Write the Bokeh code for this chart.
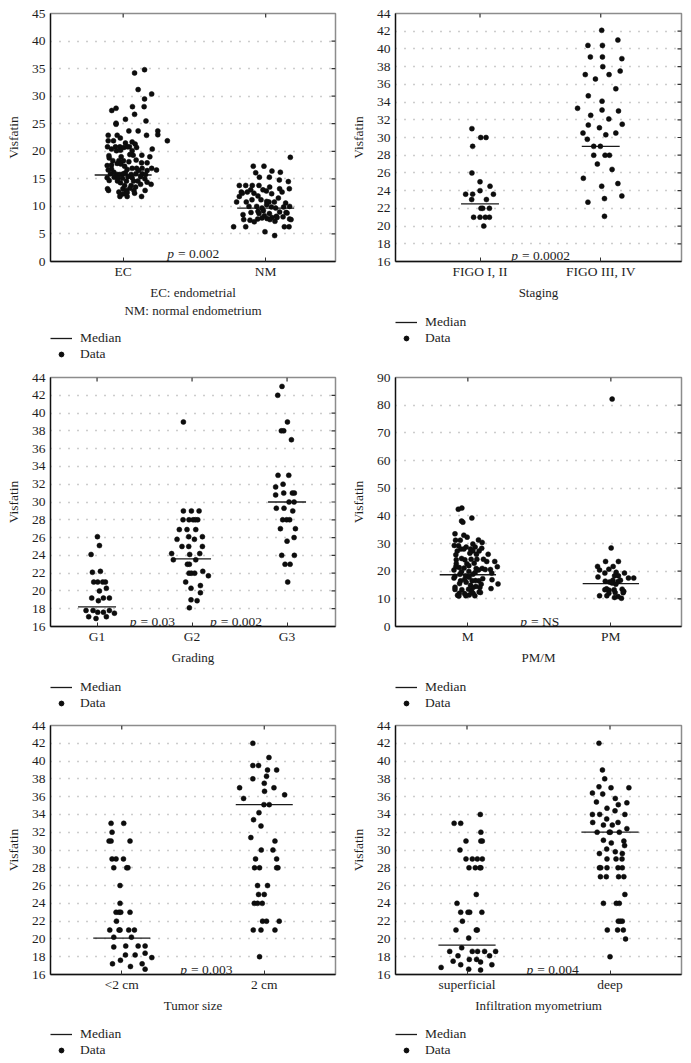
import math
from bokeh.plotting import figure
from bokeh.models import (Range1d, FixedTicker, SingleIntervalTicker, Label,
                          Legend, LegendItem, ColumnDataSource)
from bokeh.layouts import column, row
from bokeh.embed import file_html
from bokeh.resources import INLINE

FONT = "Liberation Serif"
INK = "#1e1e1e"

# ---------------- Panel A: EC vs NM ----------------
ecnm_categories = ["EC", "NM"]
ec_dx = [0.15,0.08,0.105,0.20,0.15,0.065,0.147,-0.05,-0.08,0.08,
         0.016,-0.05,-0.05,0.16,0.04,0.105,0.243,0.243,0.164,-0.105,
         -0.042,-0.02,0.31,-0.105,-0.068,0.063,0.016,0.084,0.044,-0.11,
         -0.054,-0.023,0.005,0.03,0.094,0.204,-0.082,-0.047,-0.019,0.063,
         -0.1,0.07,0.131,0.187,0.047,-0.014,-0.098,0.091,-0.073,-0.03,
         0.002,0.04,0.168,0.129,-0.112,-0.082,-0.042,-0.016,0.01,0.063,
         0.094,0.133,0.2,-0.082,-0.105,0.028,0.108,0.168,0.234,-0.065,
         0.016,-0.089,-0.042,-0.023,0.0,0.056,0.089,0.133,0.157,-0.112,
         -0.063,-0.037,-0.005,0.033,0.063,0.122,0.152,-0.098,-0.04,-0.019,
         0.023,0.073,0.103,0.168,0.196,0.122,0.056,0.01,0.087,-0.002,
         0.047,-0.11,-0.103,0.021,0.075,0.154,-0.03,-0.019,0.002,0.028,
         0.08,-0.023,0.028,0.129]
ec_val = [34.8,34.2,31.2,30.4,29.5,28.1,28.1,27.8,27.4,26.7,
          25.8,25.1,24.9,25.5,23.7,23.7,23.7,23.0,22.9,22.9,
          22.9,22.4,21.9,21.9,21.9,21.7,21.5,21.3,20.8,20.8,
          20.8,20.8,20.7,20.8,20.7,20.4,20.4,20.1,20.2,20.1,
          19.2,19.3,19.3,19.0,19.4,19.0,18.8,18.4,18.3,18.3,
          18.3,18.1,17.9,17.9,17.4,17.5,17.8,17.7,17.3,16.9,
          16.9,16.9,16.9,16.8,16.6,16.7,16.5,16.5,16.6,16.2,
          16.1,15.9,15.8,15.8,15.9,15.8,15.9,15.9,15.8,15.2,
          15.3,15.1,15.1,15.4,15.2,15.4,15.0,14.7,14.6,14.3,
          14.6,14.6,14.6,14.4,14.0,14.0,13.8,13.8,13.5,13.2,
          13.3,13.2,12.9,12.9,12.9,12.9,12.6,12.1,12.3,12.5,
          12.4,11.8,11.8,11.8]
nm_dx = [0.173,-0.087,-0.012,-0.07,0.044,0.103,-0.044,0.026,0.096,0.159,
         -0.185,-0.14,-0.094,-0.047,0.028,0.098,-0.105,0.166,-0.171,-0.082,
         -0.019,0.005,0.115,0.042,-0.164,-0.129,-0.185,-0.054,0.089,-0.096,
         -0.033,0.007,-0.204,-0.136,0.023,0.061,0.14,0.168,0.007,-0.117,
         -0.063,-0.026,0.04,0.07,0.126,-0.016,-0.054,-0.103,0.098,0.143,
         -0.159,-0.047,0.026,0.15,-0.009,0.044,0.075,0.122,-0.056,-0.026,
         0.009,0.08,0.168,-0.154,-0.11,0.03,0.065,-0.08,0.178,-0.225,
         -0.14,0.131,0.164,-0.005,0.063]
nm_val = [18.9,17.3,17.3,16.1,16.4,16.2,15.3,15.3,14.8,14.5,
          13.8,13.8,13.8,13.8,13.5,13.2,13.0,13.2,12.6,12.4,
          13.0,12.8,12.6,12.3,12.4,12.6,11.8,11.9,11.5,11.2,
          11.2,10.9,10.8,10.8,10.8,10.8,10.6,10.0,10.3,10.0,
          10.0,9.7,9.9,9.7,9.9,9.2,9.1,8.9,9.0,8.9,
          8.5,8.7,8.7,8.8,8.3,8.0,8.2,8.1,7.7,7.9,
          7.8,8.0,7.7,7.6,7.5,7.6,7.3,7.2,7.6,6.3,
          6.3,6.3,6.3,5.4,4.7]
ecnm_medians = [15.7, 9.7]

# ---------------- Panel B: Staging ----------------
staging_categories = ["FIGO I, II", "FIGO III, IV"]
figo12_dx = [-0.067,-0.061,0.006,0.05,-0.067,0.0,0.083,0.0,-0.119,-0.061,
             0.111,-0.069,0.053,0.008,0.022,0.078,-0.053,0.0,0.044,0.078,
             0.031]
figo12_val = [31.0,29.0,30.0,30.0,26.0,25.0,24.5,24.0,23.6,23.6,
              23.6,23.0,23.0,22.0,22.0,22.0,21.0,21.0,21.0,21.0,
              20.0]
figo34_dx = [0.008,-0.106,0.014,0.142,-0.086,0.014,0.175,0.017,-0.128,0.069,
             0.161,-0.044,0.125,-0.103,-0.192,0.011,0.011,0.147,-0.083,0.067,
             -0.103,-0.011,0.178,-0.147,0.042,0.125,-0.111,-0.058,-0.003,-0.058,
             0.036,0.072,-0.028,0.094,-0.144,0.142,0.008,0.175,0.031,-0.106,
             0.031]
figo34_val = [42.1,40.4,40.4,41.0,39.1,39.1,38.9,38.0,37.1,37.1,
              37.5,36.6,35.5,34.7,33.3,34.1,33.1,33.0,32.5,32.1,
              31.4,31.1,31.5,30.5,30.3,30.5,29.8,29.0,29.0,28.0,
              28.0,28.0,27.0,26.4,25.4,24.8,24.5,23.4,23.1,22.7,
              21.1]
staging_medians = [22.5, 29.0]

# ---------------- Panel C: Grading ----------------
grading_categories = ["G1", "G2", "G3"]
g1_dx = [0.004,0.025,-0.063,-0.049,0.035,-0.035,0.007,0.06,0.088,0.025,
         0.098,-0.056,0.014,0.067,0.13,-0.116,-0.042,0.007,0.067,0.13,
         0.183,-0.088,-0.011,0.098]
g1_val = [26.1,25.1,24.1,22.1,22.2,21.0,21.0,21.0,21.0,20.0,
          20.3,19.2,18.9,19.2,19.2,17.8,17.8,17.6,17.6,17.8,
          17.5,17.1,16.9,17.1]
g2_dx = [-0.091,-0.215,-0.158,-0.134,-0.095,-0.032,0.011,0.035,0.06,-0.007,
         0.074,-0.091,-0.053,0.039,-0.035,0.109,-0.106,-0.035,0.025,0.109,
         -0.025,0.081,-0.197,-0.049,-0.028,0.039,-0.032,-0.007,0.028,0.113,
         0.172,-0.067,0.088,-0.011,0.088,-0.011,0.053,-0.028]
g2_val = [39.0,24.2,25.8,26.9,28.0,28.0,28.0,28.0,28.0,29.0,
          29.0,29.0,26.9,26.9,26.1,26.1,25.0,25.0,25.8,25.0,
          24.1,24.2,23.5,23.0,23.0,23.5,22.0,22.0,22.0,22.2,
          21.7,21.0,20.6,20.3,19.8,19.0,18.9,18.1]
g3_dx = [-0.053,-0.098,0.004,-0.06,-0.035,0.046,-0.095,0.018,-0.042,-0.12,
         -0.035,0.056,0.077,-0.12,0.021,0.074,-0.113,-0.032,0.06,-0.046,
         -0.004,0.028,-0.07,0.088,0.074,0.0,-0.056,0.077,-0.021,0.032,
         0.007]
g3_val = [43.0,42.0,39.0,38.0,38.0,37.0,33.0,33.0,32.0,31.7,
          31.0,31.0,31.0,30.8,30.0,30.0,29.3,29.3,29.0,28.0,
          28.0,28.0,27.0,27.0,26.0,25.6,24.0,24.0,23.0,23.0,
          21.0]
grading_medians = [18.2, 23.6, 30.0]

# ---------------- Panel D: PM/M ----------------
pmm_categories = ["M", "PM"]
m_dx = [-0.042,-0.067,-0.044,-0.035,0.028,-0.09,-0.028,-0.005,-0.086,-0.053,
        0.074,0.1,-0.095,-0.065,0.035,0.051,-0.012,-0.049,-0.028,0.019,
        0.097,0.079,0.035,-0.074,0.06,0.142,-0.084,0.014,-0.044,-0.081,
        -0.021,0.023,0.063,0.109,0.044,0.132,0.188,-0.081,-0.007,0.007,
        -0.06,-0.084,-0.026,0.058,0.1,0.074,0.121,0.206,0.158,-0.097,
        -0.044,0.007,0.051,-0.056,0.035,0.167,-0.016,-0.09,-0.097,0.009,
        -0.023,0.104,0.169,0.053,-0.051,-0.012,0.03,0.077,-0.058,0.093,
        0.211,0.019,0.056,0.084,0.035,-0.09,0.005,-0.09,0.162,-0.042,
        0.026,0.079,0.037,0.009,-0.06,0.088,-0.072,-0.063,-0.014,0.049,
        -0.023]
m_val = [42.8,42.4,38.1,37.7,39.2,33.5,33.0,32.3,31.2,31.2,
         31.3,30.4,29.3,29.2,29.8,28.7,28.7,28.0,28.0,28.0,
         28.3,27.3,27.3,27.3,26.1,26.1,25.9,26.5,24.6,24.1,
         24.1,24.3,24.3,24.3,22.9,23.5,23.5,22.7,22.7,22.0,
         21.3,21.6,21.1,21.0,21.0,20.4,20.6,21.6,20.6,20.4,
         19.8,19.9,19.5,18.9,18.9,19.3,18.3,18.2,17.5,17.8,
         17.0,17.3,16.9,16.6,16.5,16.0,16.5,16.5,15.5,15.3,
         15.4,14.9,14.5,14.1,14.1,14.2,13.5,13.4,13.7,13.3,
         12.7,12.5,12.0,11.4,12.0,12.3,11.3,11.0,11.1,11.1,
         11.9]
pm_dx = [0.009,0.002,0.016,0.053,-0.037,-0.093,-0.079,-0.014,0.037,0.095,
         -0.042,0.026,-0.09,0.053,0.123,0.16,0.067,0.051,0.014,-0.039,
         -0.009,0.009,0.035,-0.03,-0.042,-0.012,0.023,0.079,0.09,0.086,
         0.03,-0.014,-0.079,-0.028,0.051,0.074,0.026]
pm_val = [82.2,28.4,21.7,23.5,23.5,21.7,20.4,20.7,19.6,19.3,
          19.3,18.3,17.9,18.3,17.5,17.5,16.7,16.3,16.7,16.4,
          16.1,15.7,15.3,13.6,13.3,13.1,13.3,13.5,12.7,12.2,
          12.3,12.0,11.1,11.1,10.8,10.2,10.5]
pmm_medians = [18.7, 15.5]

# ---------------- Panel E: Tumor size ----------------
size_categories = ["<2 cm", "2 cm"]
small_dx = [-0.075,0.014,-0.068,-0.089,-0.075,0.058,-0.068,-0.04,0.012,-0.056,
            0.035,0.044,-0.012,-0.012,-0.04,-0.019,-0.007,0.058,-0.037,-0.084,
            -0.019,-0.012,0.049,0.089,-0.056,0.068,-0.056,0.028,0.115,0.164,
            0.026,0.094,0.164,0.211,-0.009,-0.065,0.143,0.061,0.164]
small_val = [33.0,33.0,32.0,31.0,31.0,31.0,29.0,29.0,29.0,28.0,
             28.0,28.0,26.0,24.0,23.0,23.0,23.0,23.0,22.0,21.0,
             21.0,21.0,21.0,21.0,20.2,20.2,19.1,19.2,19.2,19.2,
             18.2,18.2,18.4,17.9,17.6,17.2,17.2,16.9,16.6]
big_dx = [-0.08,0.033,-0.08,-0.04,0.023,0.087,0.016,-0.08,-0.173,0.068,
          0.0,0.002,-0.145,0.143,-0.002,0.035,-0.037,-0.075,-0.023,-0.094,
          0.075,-0.021,0.061,-0.061,0.087,-0.068,-0.033,0.087,0.096,-0.047,
          0.023,-0.04,0.0,-0.07,-0.047,-0.014,-0.012,0.016,0.105,-0.077,
          -0.023,0.075,-0.033]
big_val = [42.0,40.4,39.5,39.5,39.0,39.0,38.3,38.0,37.0,37.0,
           37.5,36.6,35.8,36.2,35.1,35.1,34.2,33.4,32.7,31.4,
           31.0,30.0,30.0,29.0,29.0,28.0,28.0,28.0,28.0,26.0,
           26.0,25.0,25.0,24.0,24.0,24.0,22.0,22.0,22.0,21.0,
           21.0,21.0,18.0]
size_medians = [20.1, 35.1]

# ---------------- Panel F: Infiltration myometrium ----------------
infil_categories = ["superficial", "deep"]
sup_dx = [-0.09,-0.044,0.093,0.097,-0.007,0.097,0.107,-0.049,-0.007,0.037,
          0.072,0.107,0.014,0.058,0.09,0.097,0.065,-0.07,-0.044,0.007,
          0.019,0.104,-0.032,-0.077,0.065,0.072,0.012,-0.037,-0.121,0.037,
          0.074,0.123,0.2,-0.063,0.158,-0.097,0.016,0.067,0.095,-0.044,
          -0.181,0.174,0.012,0.095]
sup_val = [33.0,33.0,34.0,32.0,31.0,31.0,31.0,30.0,29.0,29.0,
           29.0,29.0,28.0,28.0,28.0,28.0,25.0,24.0,23.0,23.0,
           23.0,23.0,22.0,21.0,21.0,21.0,20.1,19.0,18.6,18.6,
           18.6,18.6,18.6,18.1,18.1,17.5,17.7,17.7,17.4,17.1,
           16.8,17.1,16.6,16.5]
deep_dx = [-0.077,-0.053,-0.037,-0.077,0.007,0.132,-0.123,-0.051,-0.095,0.037,
           0.118,0.058,-0.021,-0.123,-0.072,0.104,0.035,-0.023,0.056,-0.121,
           -0.046,0.016,-0.09,-0.005,0.002,0.065,0.118,-0.046,0.097,0.009,
           0.102,-0.023,-0.074,0.037,0.086,-0.021,0.042,0.084,-0.074,-0.065,
           -0.021,0.056,0.086,-0.067,-0.026,0.06,0.097,0.104,-0.046,0.044,
           0.065,0.058,0.072,0.086,-0.019,0.053,0.093,0.109,0.0]
deep_val = [42.0,39.0,38.0,37.1,37.0,37.0,36.4,36.3,35.4,35.8,
            35.3,35.1,34.7,34.0,34.0,34.0,34.4,33.5,33.1,33.1,
            32.8,32.8,32.0,32.0,32.0,32.0,32.4,31.1,31.0,30.8,
            30.5,30.1,29.6,29.8,29.6,29.0,29.0,29.0,28.0,28.0,
            28.0,28.0,28.0,27.0,27.0,27.0,27.0,25.0,24.0,24.0,
            24.0,22.0,22.0,22.0,21.0,21.0,21.0,20.0,18.0]
infil_medians = [19.3, 32.0]

MEDIAN_COLOR = "#1a1a1a"
DOT_COLOR = "#0d0d0d"


def build(cats, groups, medians, yr, ystep, xr, xlabel, ptexts, width, height,
          frame_h, hw):
    p = figure(width=width, height=height, output_backend="svg", toolbar_location=None,
               x_range=Range1d(*xr), y_range=Range1d(*yr),
               min_border_left=50, min_border_right=10, min_border_top=13,
               min_border_bottom=height - 13 - frame_h)
    p.background_fill_color = "white"
    p.border_fill_color = "white"
    p.outline_line_color = "#8c8c8c"
    p.outline_line_width = 1.5

    ticks = list(range(len(cats)))
    xa = p.xaxis[0]
    xa.ticker = FixedTicker(ticks=ticks)
    xa.major_label_overrides = {i: c for i, c in enumerate(cats)}
    xa.axis_label = xlabel
    xa.axis_label_text_font = FONT
    xa.axis_label_text_font_style = "normal"
    xa.axis_label_text_font_size = "13px"
    xa.axis_label_text_color = INK
    xa.axis_label_standoff = 3
    xa.major_label_text_font = FONT
    xa.major_label_text_font_size = "13.5px"
    xa.major_label_text_color = INK
    xa.major_label_standoff = 2
    xa.major_tick_in = 4
    xa.major_tick_out = 0
    xa.major_tick_line_color = "#333333"
    xa.minor_tick_line_color = None
    xa.axis_line_color = "#111111"
    xa.axis_line_width = 1.3

    yt = SingleIntervalTicker(interval=ystep, num_minor_ticks=0)
    ya = p.yaxis[0]
    ya.ticker = yt
    ya.axis_label = "Visfatin"
    ya.axis_label_text_font = FONT
    ya.axis_label_text_font_style = "normal"
    ya.axis_label_text_font_size = "13.5px"
    ya.axis_label_text_color = INK
    ya.axis_label_standoff = 8
    ya.major_label_text_font = FONT
    ya.major_label_text_font_size = "13.5px"
    ya.major_label_text_color = INK
    ya.major_label_standoff = 5
    ya.major_tick_in = 0
    ya.major_tick_out = 0
    ya.minor_tick_line_color = None
    ya.axis_line_color = "#111111"
    ya.axis_line_width = 1.3

    p.xgrid.visible = False
    p.ygrid.ticker = yt
    p.ygrid.grid_line_color = "#9a9a9a"
    p.ygrid.grid_line_dash = "1 8"
    p.ygrid.grid_line_width = 1.4

    # inward tick marks on the top (categories) and right (value ticks) frame edges
    ytick_vals = list(range(yr[0] + ystep, yr[1], ystep))
    p.ray(x=[xr[1]] * len(ytick_vals), y=ytick_vals, length=4, length_units="screen",
          angle=math.pi, line_color="#333333", line_width=1.2)
    p.ray(x=ticks, y=[yr[1]] * len(ticks), length=4, length_units="screen",
          angle=-math.pi / 2, line_color="#333333", line_width=1.2)

    xs, ys = [], []
    for i, (dx, vals) in enumerate(groups):
        for d, v in zip(dx, vals):
            xs.append(i + d)
            ys.append(v)
    src = ColumnDataSource(dict(x=xs, y=ys))
    msrc = ColumnDataSource(dict(x0=[i - hw for i in ticks], x1=[i + hw for i in ticks],
                                 y=medians))
    p.segment(x0="x0", y0="y", x1="x1", y1="y", source=msrc,
              line_color=MEDIAN_COLOR, line_width=1.3)
    p.scatter(x="x", y="y", source=src, size=5, marker="circle",
              fill_color=DOT_COLOR, line_color=DOT_COLOR, line_width=0.5)

    for (x, y, txt) in ptexts:
        p.add_layout(Label(x=x, y=y, text="p", text_font=FONT, text_font_style="italic",
                           text_font_size="13.5px", text_align="right",
                           text_baseline="alphabetic", text_color=INK))
        p.add_layout(Label(x=x, y=y, x_offset=4, text=txt, text_font=FONT,
                           text_font_size="13.5px", text_align="left",
                           text_baseline="alphabetic", text_color=INK))
    return p


def legend_fig(width, height):
    # a small key-only figure under each panel; its sample glyphs sit outside the view
    lf = figure(width=width, height=height, output_backend="svg", toolbar_location=None,
                x_range=Range1d(0, 1), y_range=Range1d(0, 1),
                x_axis_location=None, y_axis_location=None,
                min_border_left=50, min_border_right=10, min_border_top=0,
                min_border_bottom=0)
    lf.outline_line_color = None
    lf.grid.visible = False
    lf.background_fill_color = "white"
    lf.border_fill_color = "white"
    key_src = ColumnDataSource(dict(x0=[5], x1=[6], y=[5]))
    seg = lf.segment(x0="x0", y0="y", x1="x1", y1="y", source=key_src,
                     line_color=MEDIAN_COLOR, line_width=1.3)
    sc = lf.scatter(x="x0", y="y", source=key_src, size=5, marker="circle",
                    fill_color=DOT_COLOR, line_color=DOT_COLOR)
    leg = Legend(items=[LegendItem(label="Median", renderers=[seg]),
                        LegendItem(label="Data", renderers=[sc])],
                 location="top_left", orientation="vertical",
                 margin=0, padding=0, spacing=0, glyph_width=22, glyph_height=12,
                 label_height=16, label_standoff=8,
                 label_text_font=FONT, label_text_font_size="13.5px",
                 label_text_color=INK, border_line_alpha=0, background_fill_alpha=0)
    lf.add_layout(leg)
    return lf


LW, RW = 345, 346

p1 = build(ecnm_categories, [(ec_dx, ec_val), (nm_dx, nm_val)], ecnm_medians,
           (0, 45), 5, (-0.51, 1.49), "EC: endometrial\nNM: normal endometrium",
           [(0.356, 1.5, "= 0.002")], LW, 330, 248, 0.2)
p2 = build(staging_categories, [(figo12_dx, figo12_val), (figo34_dx, figo34_val)],
           staging_medians, (16, 44), 2, (-0.7, 1.669), "Staging",
           [(0.314, 16.64, "= 0.0002")], RW, 314, 248, 0.157)
p3 = build(grading_categories, [(g1_dx, g1_val), (g2_dx, g2_val), (g3_dx, g3_val)],
           grading_medians, (16, 44), 2, (-0.49, 2.51), "Grading",
           [(0.415, 16.56, "= 0.03"), (1.259, 16.56, "= 0.002")], LW, 315, 249, 0.2)
p4 = build(pmm_categories, [(m_dx, m_val), (pm_dx, pm_val)], pmm_medians,
           (0, 90), 10, (-0.506, 1.494), "PM/M",
           [(0.413, 1.69, "= NS")], RW, 315, 249, 0.197)
p5 = build(size_categories, [(small_dx, small_val), (big_dx, big_val)], size_medians,
           (16, 44), 2, (-0.5, 1.5), "Tumor size",
           [(0.458, 16.52, "= 0.003")], LW, 314, 249, 0.2)
p6 = build(infil_categories, [(sup_dx, sup_val), (deep_dx, deep_val)], infil_medians,
           (16, 44), 2, (-0.5, 1.5), "Infiltration myometrium",
           [(0.464, 16.52, "= 0.004")], RW, 314, 249, 0.2)

layout = column(
    row(column(p1, legend_fig(LW, 34)), column(p2, legend_fig(RW, 50))),
    row(column(p3, legend_fig(LW, 33)), column(p4, legend_fig(RW, 33))),
    row(column(p5, legend_fig(LW, 35)), column(p6, legend_fig(RW, 35))),
)
open("out.html", "w").write(file_html(layout, INLINE))
